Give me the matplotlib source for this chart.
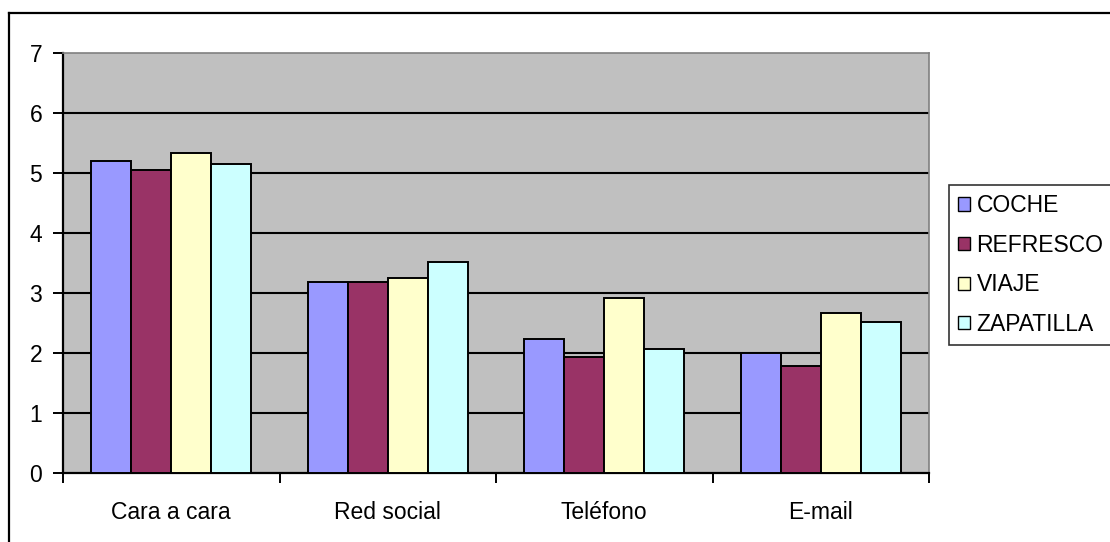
import matplotlib
matplotlib.use("Agg")
import matplotlib.pyplot as plt
from matplotlib.lines import Line2D
from matplotlib.patches import Patch
import numpy as np

plt.rcParams['font.family'] = ['Liberation Sans', 'DejaVu Sans']

categories = ["Cara a cara", "Red social", "Teléfono", "E-mail"]
series_names = ["COCHE", "REFRESCO", "VIAJE", "ZAPATILLA"]
coche = [5.20, 3.19, 2.24, 2.00]
refresco = [5.05, 3.19, 1.93, 1.78]
viaje = [5.33, 3.25, 2.91, 2.67]
zapatilla = [5.15, 3.52, 2.06, 2.52]
y_ticks = [0, 1, 2, 3, 4, 5, 6, 7]

series = [coche, refresco, viaje, zapatilla]
colors = ["#9999FF", "#993366", "#FFFFCC", "#CCFFFF"]

W, H = 1110, 542
fig = plt.figure(figsize=(W / 100, H / 100), dpi=100)
fig.patch.set_facecolor("white")

ax = fig.add_axes([63 / W, 69 / H, 866 / W, 420 / H])
ax.set_facecolor("#C0C0C0")

x = np.arange(len(categories))
bw = 0.185
for i, (vals, col) in enumerate(zip(series, colors)):
    ax.bar(x + (i - 1.5) * bw, vals, width=bw, color=col,
           edgecolor="black", linewidth=1.4, zorder=3)

fs = 16.5
ax.set_xlim(-0.5, len(categories) - 0.5)
ax.set_ylim(0, 7)
ax.set_yticks(y_ticks)
ax.set_yticklabels([str(v) for v in y_ticks], fontsize=fs)
for v in y_ticks[1:-1]:
    ax.axhline(v, color="black", linewidth=1.5, zorder=1)

# category boundaries carry the ticks, labels sit at the centres
ax.set_xticks(np.arange(len(categories) + 1) - 0.5)
ax.set_xticklabels([])
ax.set_xticks(x, minor=True)
ax.set_xticklabels(categories, minor=True, fontsize=fs)
ax.tick_params(axis="x", which="minor", length=0, pad=20)
ax.tick_params(axis="x", which="major", direction="out", length=7, width=1.4)
ax.tick_params(axis="y", direction="out", length=7, width=1.4, pad=8)

for side in ("top", "right"):
    ax.spines[side].set_color("#808080")
    ax.spines[side].set_linewidth(1.2)
for side in ("left", "bottom"):
    ax.spines[side].set_color("black")
    ax.spines[side].set_linewidth(1.6)

handles = [Patch(facecolor=c, edgecolor="black", linewidth=1.0) for c in colors]
leg = fig.legend(handles, series_names, loc="upper left",
                 bbox_to_anchor=(949 / W, 1 - 185 / H),
                 bbox_transform=fig.transFigure,
                 fontsize=fs, handlelength=0.5, handleheight=0.5,
                 handletextpad=0.3, labelspacing=0.72, borderpad=0.4,
                 borderaxespad=0, frameon=True, fancybox=False)
leg.get_frame().set_edgecolor("black")
leg.get_frame().set_linewidth(1.2)

# outer chart frame
fig.add_artist(Line2D([9 / W, 9 / W], [0, 1 - 13 / H], transform=fig.transFigure,
                      color="black", linewidth=1.6))
fig.add_artist(Line2D([9 / W, 1], [1 - 13 / H, 1 - 13 / H], transform=fig.transFigure,
                      color="black", linewidth=1.6))

fig.savefig("out.png", dpi=100)
